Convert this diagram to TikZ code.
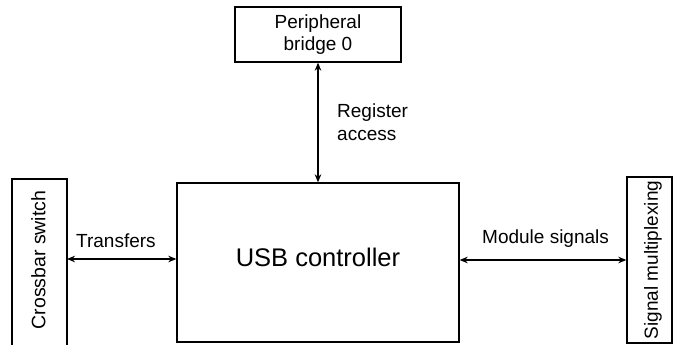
\documentclass[tikz,border=0pt]{standalone}
\usepackage{fontspec}
\setmainfont{Liberation Sans}
\usetikzlibrary{arrows.meta}
\begin{document}
\begin{tikzpicture}[x=1pt,y=-1pt,
  box/.style={draw,line width=1.3pt,inner sep=0pt},
  lab/.style={font=\fontsize{19}{23}\selectfont,inner sep=0pt},
  big/.style={font=\fontsize{25.5}{30}\selectfont,inner sep=0pt},
  conn/.style={line width=1.3pt,{Stealth[length=8pt,width=6.5pt,inset=2.5pt]}-{Stealth[length=8pt,width=6.5pt,inset=2.5pt]}}]
\useasboundingbox (0,0) rectangle (673,345);
% boxes
\node[box,minimum width=166pt,minimum height=55pt] (pb) at (318,34.5) {};
\node[lab,align=center,font=\fontsize{19}{22}\selectfont] (pbt) at (pb.center) {Peripheral\\bridge 0};
\node[box,minimum width=282pt,minimum height=159pt] (usb) at (318,262.5) {};
\node[big] (usbt) at ([yshift=5.5pt]usb.center) {USB controller};
\node[box,minimum width=45pt,minimum height=166pt] (sig) at (649.5,260) {};
\node[lab,rotate=90] (sigt) at (653,260) {Signal multiplexing};
\draw[line width=1.3pt] (12,345) -- (12,179) -- (67,179) -- (67,345);
\node[lab,rotate=90,font=\fontsize{19.5}{23}\selectfont] (cb) at (38.5,260) {Crossbar switch};
\coordinate (cbE) at (67,259);
% connectors
\draw[conn] (cbE) -- (cbE -| usb.west);
\draw[conn] (usb.east |- sig.west) -- (sig.west);
\draw[conn] (pb.south) -- (usb.north);
% labels
\node[lab,anchor=base west] (tr) at (76,247) {Transfers};
\node[lab,anchor=base west] (ms) at (482,243) {Module signals};
\node[lab,anchor=west,align=left] (ra) at (337,122) {Register\\access};
\end{tikzpicture}
\end{document}
